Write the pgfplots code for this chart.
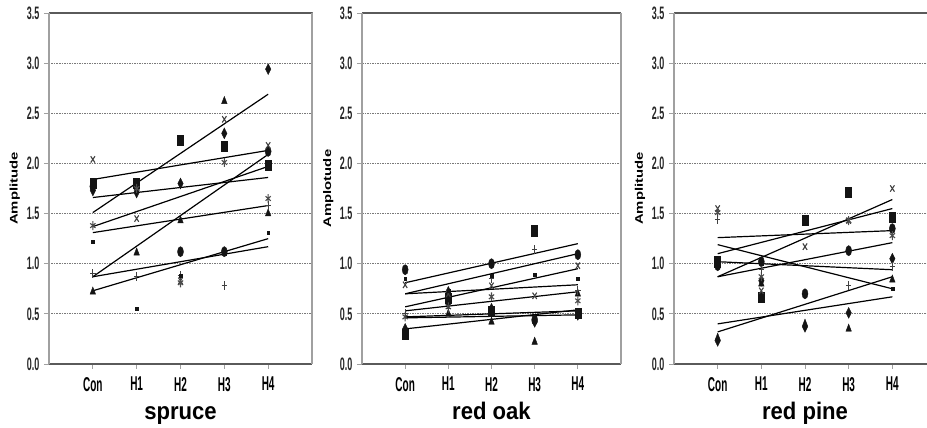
\documentclass[border=0pt]{standalone}
\usepackage{pgfplots}
\pgfplotsset{compat=1.18}
\usepackage{fontspec}
\setmainfont{Liberation Sans}
\newfontfamily\tickfont{Liberation Sans}[FakeStretch=0.5]
\newfontfamily\ylabfont{Liberation Sans}[FakeStretch=1.35]
\newfontfamily\titlefont{Liberation Sans}[FakeStretch=0.92]

\definecolor{mk}{HTML}{141414}
\definecolor{gridc}{HTML}{7A7A7A}
\definecolor{axc}{HTML}{A0A0A0}
\definecolor{bottomc}{HTML}{5A5A5A}

\pgfplotsset{
  panel/.style={
    scale only axis, height=351pt,
    xmin=0, xmax=6, ymin=0, ymax=3.5,
    xtick={1,2,3,4,5}, xticklabels={Con,H1,H2,H3,H4},
    ytick={0,0.5,1,1.5,2,2.5,3,3.5},
    yticklabels={0.0,0.5,1.0,1.5,2.0,2.5,3.0,3.5},
    xtick pos=bottom, ytick pos=left, tick align=outside,
    major tick length=5pt,
    tick style={axc, line width=0.8pt},
    separate axis lines,
    x axis line style={bottomc, line width=1.3pt},
    y axis line style={axc, line width=1.1pt},
    ymajorgrids, grid style={gridc, dash pattern=on 1.5pt off 1pt, line width=1pt},
    xticklabel style={font=\tickfont\bfseries\fontsize{20}{20}\selectfont, text=black, yshift=-7pt, inner sep=1pt},
    yticklabel style={font=\tickfont\bfseries\fontsize{18}{18}\selectfont, text=black!85, xshift=-1pt},
    xlabel style={at={(axis description cs:0.5,0)}, anchor=base, yshift=-56pt, inner sep=1pt, font=\titlefont\bfseries\fontsize{24}{24}\selectfont},
    ylabel style={at={(axis description cs:-0.13,0.5)}, anchor=center, font=\ylabfont\bfseries\fontsize{11}{11}\selectfont},
    clip=false,
  },
  trend/.style={black, line width=1.2pt, no marks},
  mS/.style={only marks, mark=square*, mark size=3pt, every mark/.append style={yscale=1.7, fill=mk, draw=mk}},
  mD/.style={only marks, mark=diamond*, mark size=3.6pt, every mark/.append style={yscale=1.5, fill=mk, draw=mk}},
  mC/.style={only marks, mark=*, mark size=3pt, every mark/.append style={yscale=1.7, fill=mk, draw=mk}},
  mT/.style={only marks, mark=triangle*, mark size=3.2pt, every mark/.append style={yscale=1.5, fill=mk, draw=mk}},
  mX/.style={only marks, mark=x, mark size=3pt, every mark/.append style={yscale=1.5, draw=black!75, line width=1.1pt}},
  mA/.style={only marks, mark=asterisk, mark size=3pt, every mark/.append style={yscale=1.5, draw=black!70, line width=1.1pt}},
  mP/.style={only marks, mark=+, mark size=2.8pt, every mark/.append style={yscale=1.6, draw=black!75, line width=1pt}},
  mM/.style={only marks, mark=square*, mark size=1.4pt, every mark/.append style={fill=mk, draw=mk}},
}

\begin{document}
\begin{tikzpicture}
\useasboundingbox (0,0) rectangle (927pt,428pt);

% ---------------- spruce ----------------
\begin{axis}[panel, width=263pt, at={(49pt,64pt)}, anchor=south west,
  xlabel={spruce}, ylabel={Amplitude}]
\addplot[trend] coordinates {(1,1.84) (5,2.13)};
\addplot[trend] coordinates {(1,1.66) (5,1.86)};
\addplot[trend] coordinates {(1,1.51) (5,2.69)};
\addplot[trend] coordinates {(1,1.37) (5,1.97)};
\addplot[trend] coordinates {(1,1.31) (5,1.58)};
\addplot[trend] coordinates {(1,0.87) (5,2.09)};
\addplot[trend] coordinates {(1,0.87) (5,1.17)};
\addplot[trend] coordinates {(1,0.73) (5,1.25)};
\addplot[mS] coordinates {(1,1.80) (2,1.80) (3,2.23) (4,2.17) (5,1.98)};
\addplot[mD] coordinates {(1,1.73) (2,1.71) (3,1.80) (4,2.30) (5,2.94)};
\addplot[mC] coordinates {(1,1.77) (2,1.76) (3,1.12) (4,1.12) (5,2.12)};
\addplot[mT] coordinates {(1,0.72) (2,1.11) (3,1.43) (4,2.62) (5,1.50)};
\addplot[mX] coordinates {(1,2.04) (2,1.45) (3,0.83) (4,2.44) (5,2.18)};
\addplot[mA] coordinates {(1,1.38) (2,1.75) (3,0.81) (4,2.01) (5,1.65)};
\addplot[mP] coordinates {(1,0.90) (2,0.87) (3,0.88) (4,0.78) (5,1.58)};
\addplot[mM] coordinates {(1,1.22) (2,0.55) (3,0.88) (4,1.10) (5,1.31)};
\end{axis}

% ---------------- red oak ----------------
\begin{axis}[panel, width=259pt, at={(362pt,64pt)}, anchor=south west,
  xlabel={red oak}, ylabel={Amplotude}]
\addplot[trend] coordinates {(1,0.81) (5,1.20)};
\addplot[trend] coordinates {(1,0.70) (5,1.10)};
\addplot[trend] coordinates {(1,0.57) (5,0.95)};
\addplot[trend] coordinates {(1,0.70) (5,0.79)};
\addplot[trend] coordinates {(1,0.53) (5,0.72)};
\addplot[trend] coordinates {(1,0.47) (5,0.53)};
\addplot[trend] coordinates {(1,0.46) (5,0.49)};
\addplot[trend] coordinates {(1,0.35) (5,0.54)};
\addplot[mC] coordinates {(1,0.94) (2,0.62) (3,1.00) (4,0.44) (5,1.09)};
\addplot[mS] coordinates {(1,0.30) (2,0.66) (3,0.53) (4,1.33) (5,0.51)};
\addplot[mD] coordinates {(1,0.35) (2,0.72) (3,0.55) (4,0.42) (5,0.49)};
\addplot[mT] coordinates {(1,0.33) (2,0.50) (3,0.42) (4,0.22) (5,0.70)};
\addplot[mX] coordinates {(1,0.79) (2,0.70) (3,0.78) (4,0.68) (5,0.98)};
\addplot[mA] coordinates {(1,0.47) (2,0.57) (3,0.67) (5,0.63)};
\addplot[mP] coordinates {(1,0.50) (2,0.55) (3,0.85) (4,1.14) (5,0.73)};
\addplot[mM] coordinates {(1,0.85) (2,0.73) (3,0.88) (4,0.89) (5,0.85)};
\end{axis}

% ---------------- red pine ----------------
\begin{axis}[panel, width=262pt, at={(674pt,64pt)}, anchor=south west,
  xlabel={red pine}, ylabel={Amplitude}]
\addplot[trend] coordinates {(1,1.26) (5,1.33)};
\addplot[trend] coordinates {(1,1.19) (5,0.75)};
\addplot[trend] coordinates {(1,1.10) (5,1.55)};
\addplot[trend] coordinates {(1,1.02) (5,0.94)};
\addplot[trend] coordinates {(1,0.87) (5,1.64)};
\addplot[trend] coordinates {(1,0.87) (5,1.21)};
\addplot[trend] coordinates {(1,0.40) (5,0.67)};
\addplot[trend] coordinates {(1,0.32) (5,0.87)};
\addplot[mS] coordinates {(1,1.02) (2,0.67) (3,1.43) (4,1.71) (5,1.46)};
\addplot[mC] coordinates {(1,0.98) (2,1.02) (3,0.70) (4,1.13) (5,1.35)};
\addplot[mD] coordinates {(1,0.23) (2,0.83) (3,0.37) (4,0.51) (5,1.05)};
\addplot[mT] coordinates {(1,0.26) (2,0.80) (3,0.40) (4,0.35) (5,0.84)};
\addplot[mX] coordinates {(1,1.55) (2,0.73) (3,1.17) (4,1.43) (5,1.75)};
\addplot[mA] coordinates {(1,1.51) (2,0.87) (4,1.43) (5,1.28)};
\addplot[mP] coordinates {(1,1.44) (2,0.94) (4,0.78) (5,0.97)};
\addplot[mM] coordinates {(1,1.00) (2,1.00) (5,0.75)};
\end{axis}
\end{tikzpicture}
\end{document}
